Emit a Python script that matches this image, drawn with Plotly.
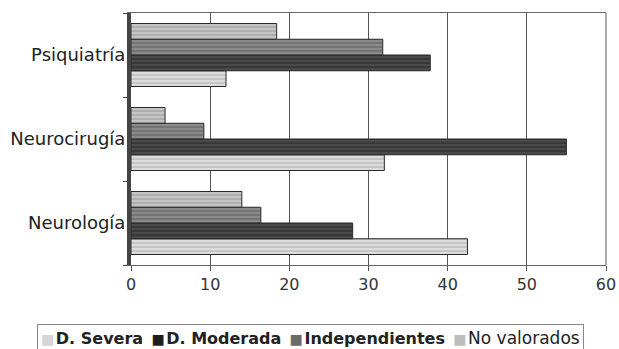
import plotly.graph_objects as go

categories = ["Neurología", "Neurocirugía", "Psiquiatría"]
series_names = ["D. Severa", "D. Moderada", "Independientes", "No valorados"]
d_severa = [42.5, 32, 12]
d_moderada = [28, 55, 37.8]
independientes = [16.4, 9.2, 31.8]
no_valorados = [14, 4.3, 18.4]
x_ticks = [0, 10, 20, 30, 40, 50, 60]

series_values = [d_severa, d_moderada, independientes, no_valorados]
bg_colors = ["#dcdcdc", "#4a4a4a", "#8a8a8a", "#c4c4c4"]
fg_colors = ["#9a9a9a", "#151515", "#4a4a4a", "#858585"]
legend_colors = ["#d6d6d6", "#1e1e1e", "#6a6a6a", "#bdbdbd"]
legend_bold = [True, True, True, False]

fig = go.Figure()
for name, vals, bg, fg in zip(series_names, series_values, bg_colors, fg_colors):
    fig.add_trace(go.Bar(
        y=categories, x=vals, name=name, orientation="h",
        marker=dict(color=bg, line=dict(color="#2a2a2a", width=1),
                    pattern=dict(shape="-", fgcolor=fg, bgcolor=bg, size=4, solidity=0.35)),
    ))

# custom one-row legend as a single boxed annotation
parts = []
for name, col, bold in zip(series_names, legend_colors, legend_bold):
    sym = f"<span style='color:{col};font-size:14px'>■</span>&#8202;"
    txt = f"<b>{name}</b>" if bold else f"<span style='font-size:17px'>{name}</span>"
    parts.append(sym + txt)
legend_text = "&nbsp;&#8201;".join(parts)

fig.update_layout(
    width=619, height=349,
    margin=dict(l=131, r=13, t=13, b=84),
    paper_bgcolor="white", plot_bgcolor="white",
    barmode="group", bargap=0.25, bargroupgap=0,
    font=dict(family="DejaVu Sans, Verdana, sans-serif", size=16, color="#222222"),
    showlegend=False,
    xaxis=dict(range=[0, 60], tickvals=x_ticks, showgrid=True, gridcolor="#555555", gridwidth=1,
               showline=True, linecolor="#666666", linewidth=1, mirror=True,
               ticks="outside", ticklen=5, tickcolor="#555555", zeroline=False,
               tickfont=dict(size=16, color="#333333"), automargin=False),
    yaxis=dict(showline=True, linecolor="#444444", linewidth=4, mirror=False,
               ticks="outside", tickson="boundaries", ticklen=4, tickcolor="#444444",
               tickfont=dict(size=18, color="#222222"), categoryorder="array",
               categoryarray=categories, automargin=False, ticklabelstandoff=-2),
    annotations=[dict(
        text=legend_text, xref="paper", yref="paper", x=0.378, y=-0.29,
        xanchor="center", yanchor="middle", showarrow=False,
        font=dict(size=16, color="#222222"),
        bordercolor="#888888", borderwidth=1, borderpad=3, bgcolor="white",
    )],
)
fig.add_shape(type="line", xref="paper", yref="paper", x0=1, x1=1, y0=0, y1=1,
              line=dict(color="#555555", width=1))

fig.write_html("out.html", config={"displayModeBar": False},
               post_script="document.body.style.margin='0';document.body.style.padding='0';")
